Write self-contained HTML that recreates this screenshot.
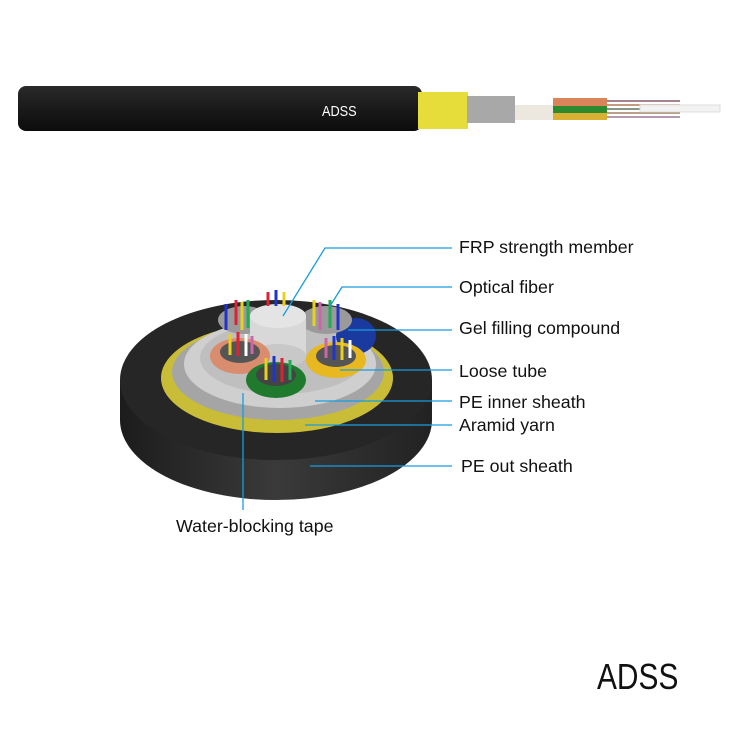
<!DOCTYPE html><html><head><meta charset="utf-8"><style>
body{margin:0;background:#fff;width:750px;height:750px;overflow:hidden;font-family:"Liberation Sans",sans-serif}
.t{position:absolute;font-size:17.8px;color:#111;white-space:nowrap}
</style></head><body>
<svg width="750" height="750" style="position:absolute;left:0;top:0">
<defs>
<linearGradient id="bk" x1="0" y1="0" x2="0" y2="1"><stop offset="0" stop-color="#2a2a2a"/><stop offset=".5" stop-color="#1a1a1a"/><stop offset="1" stop-color="#0c0c0c"/></linearGradient>
<linearGradient id="side" x1="0" y1="0" x2="1" y2="0"><stop offset="0" stop-color="#1c1c1c"/><stop offset=".5" stop-color="#3a3a3a"/><stop offset="1" stop-color="#222"/></linearGradient>
</defs>
<rect x="18" y="86" width="404" height="45" rx="8" fill="url(#bk)"/>
<text x="322" y="116" font-family="Liberation Sans" font-size="15" fill="#fff" transform="translate(322 0) scale(0.85 1) translate(-322 0)">ADSS</text>
<rect x="418" y="92" width="50" height="37" fill="#e6dc3a"/>
<rect x="467" y="96" width="48" height="27" fill="#a8a8a8"/>
<rect x="515" y="105" width="38" height="15" fill="#ece8e0"/>
<rect x="553" y="98" width="54" height="8" fill="#d9845a"/>
<rect x="553" y="106" width="54" height="7" fill="#2e8a2e"/>
<rect x="553" y="113" width="54" height="7" fill="#d9b032"/>
<g stroke-width="1.5"><line x1="607" y1="101" x2="680" y2="101" stroke="#8a5a6a"/><line x1="607" y1="105" x2="680" y2="105" stroke="#b07a50"/><line x1="607" y1="109" x2="680" y2="109" stroke="#607060"/><line x1="607" y1="113" x2="680" y2="113" stroke="#a08060"/><line x1="607" y1="117" x2="680" y2="117" stroke="#9a7a9a"/></g>
<rect x="640" y="105" width="80" height="7" fill="#f2f2f2" stroke="#ddd"/>
<path d="M120 380 L120 420 A156 80 0 0 0 432 420 L432 380 Z" fill="url(#side)"/>
<ellipse cx="276" cy="380" rx="156" ry="80" fill="#262626"/>
<ellipse cx="277" cy="378" rx="116" ry="55" fill="#c9bd38"/>
<ellipse cx="278" cy="372" rx="106" ry="48" fill="#a5a5a5"/>
<ellipse cx="280" cy="364" rx="96" ry="44" fill="#cfcfcf"/>
<ellipse cx="282" cy="358" rx="82" ry="36" fill="#bfbfbf"/>
<ellipse cx="356" cy="336" rx="20" ry="18" fill="#1a3aa0"/>
<ellipse cx="244" cy="320" rx="26" ry="14" fill="#9a9a9a"/>
<ellipse cx="326" cy="320" rx="26" ry="14" fill="#9a9a9a"/>
<rect x="250" y="316" width="56" height="40" fill="#d8d8d8"/>
<ellipse cx="278" cy="356" rx="28" ry="12" fill="#c8c8c8"/>
<ellipse cx="278" cy="316" rx="28" ry="12" fill="#e4e4e4"/>
<g stroke-width="3">
<line x1="236" y1="300" x2="236" y2="325" stroke="#d23"/><line x1="242" y1="302" x2="242" y2="330" stroke="#e8d020"/><line x1="248" y1="300" x2="248" y2="328" stroke="#2a5"/><line x1="226" y1="304" x2="226" y2="330" stroke="#23c"/>
<line x1="314" y1="300" x2="314" y2="326" stroke="#e8d020"/><line x1="320" y1="302" x2="320" y2="330" stroke="#c6a"/><line x1="330" y1="300" x2="330" y2="328" stroke="#2a5"/><line x1="338" y1="304" x2="338" y2="330" stroke="#23c"/>
<line x1="268" y1="292" x2="268" y2="306" stroke="#d23"/><line x1="276" y1="290" x2="276" y2="306" stroke="#23c"/><line x1="284" y1="292" x2="284" y2="306" stroke="#e8d020"/>
</g>
<ellipse cx="240" cy="356" rx="30" ry="18" fill="#d98c6e"/>
<ellipse cx="240" cy="352" rx="20" ry="11" fill="#555"/>
<ellipse cx="336" cy="360" rx="30" ry="18" fill="#e8b820"/>
<ellipse cx="336" cy="356" rx="20" ry="11" fill="#555"/>
<ellipse cx="276" cy="380" rx="30" ry="18" fill="#1f7a2e"/>
<ellipse cx="276" cy="375" rx="20" ry="11" fill="#444"/>
<g stroke-width="3">
<line x1="230" y1="334" x2="230" y2="355" stroke="#e8d020"/><line x1="238" y1="332" x2="238" y2="356" stroke="#d23"/><line x1="246" y1="334" x2="246" y2="356" stroke="#fff"/><line x1="252" y1="336" x2="252" y2="354" stroke="#c6a"/>
<line x1="326" y1="338" x2="326" y2="358" stroke="#c6a"/><line x1="334" y1="336" x2="334" y2="360" stroke="#23c"/><line x1="342" y1="338" x2="342" y2="360" stroke="#e8d020"/><line x1="350" y1="340" x2="350" y2="358" stroke="#fff"/>
<line x1="266" y1="358" x2="266" y2="380" stroke="#e8d020"/><line x1="274" y1="356" x2="274" y2="382" stroke="#23c"/><line x1="282" y1="358" x2="282" y2="382" stroke="#d23"/><line x1="290" y1="360" x2="290" y2="380" stroke="#2a5"/>
</g>
<g stroke="#1a9be0" stroke-width="1.3" fill="none">
<polyline points="283,316 325,248 452,248"/>
<polyline points="330,306 342,287 452,287"/>
<line x1="348" y1="330" x2="452" y2="330"/>
<line x1="340" y1="370" x2="452" y2="370"/>
<line x1="315" y1="401" x2="452" y2="401"/>
<line x1="305" y1="425" x2="452" y2="425"/>
<line x1="310" y1="466" x2="452" y2="466"/>
<line x1="243" y1="393" x2="243" y2="510"/>
</g>
</svg>
<div class="t" style="left:459px;top:237px">FRP strength member</div>
<div class="t" style="left:459px;top:277px">Optical fiber</div>
<div class="t" style="left:459px;top:318px">Gel filling compound</div>
<div class="t" style="left:459px;top:361px">Loose tube</div>
<div class="t" style="left:459px;top:392px">PE inner sheath</div>
<div class="t" style="left:459px;top:415px">Aramid yarn</div>
<div class="t" style="left:461px;top:456px">PE out sheath</div>
<div class="t" style="left:176px;top:516px">Water-blocking tape</div>
<div class="t" style="left:597px;top:656px;font-size:36px;transform:scaleX(0.83);transform-origin:0 0">ADSS</div>
</body></html>
